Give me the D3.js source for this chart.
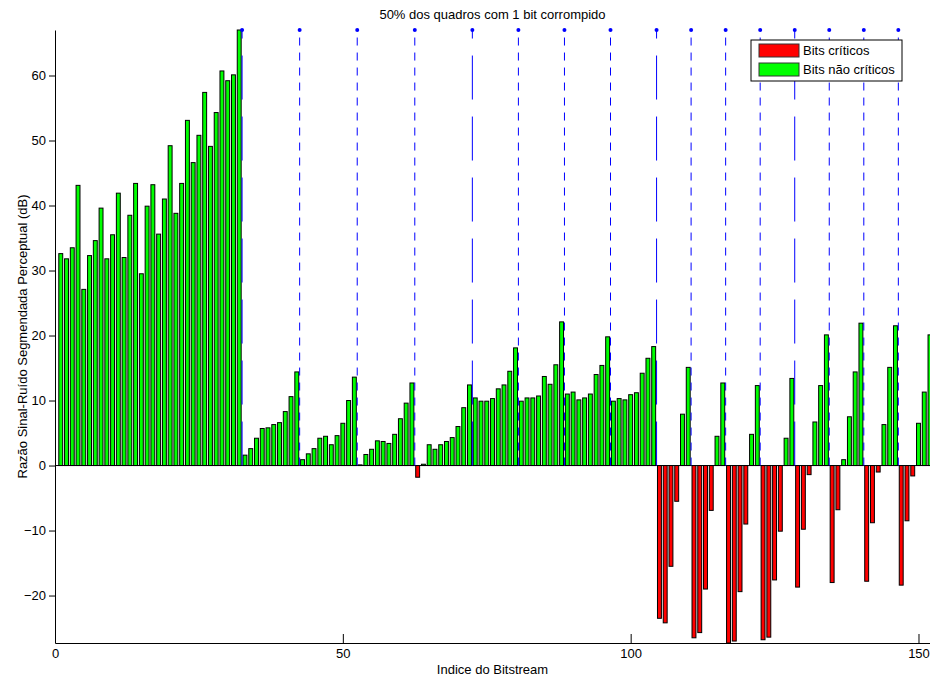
<!DOCTYPE html>
<html lang="pt">
<head>
    <meta charset="UTF-8">
    <script src="https://d3js.org/d3.v7.min.js"></script>
    <title>50% dos quadros com 1 bit corrompido</title>
    <style>
        body { margin: 0; background: #fff; }
        text { font-family: "Liberation Sans", Arial, sans-serif; font-size: 13px; }
    </style>
</head>
<body>
<div id="chart"></div>
<script>
    // valores (indice 1..152)
    const snrValues = [
        32.6, 31.8, 33.5, 43.1, 27.1, 32.3, 34.6, 39.6, 31.8, 35.5, 41.9, 32.0, 38.5, 43.4, 29.5, 39.9,
        43.2, 35.6, 41.0, 49.2, 38.8, 43.4, 53.1, 46.6, 50.8, 57.4, 49.1, 54.3, 60.7, 59.2, 60.1, 67.0,
        1.6, 2.6, 4.2, 5.7, 5.8, 6.3, 6.6, 8.3, 10.6, 14.4,
        0.9, 1.8, 2.6, 4.2, 4.5, 3.2, 4.6, 6.5, 10.0, 13.6,
        0.1, 1.7, 2.5, 3.8, 3.7, 3.4, 4.8, 7.2, 9.6, 12.7,
        -1.8, 0.2, 3.2, 2.5, 3.2, 3.7, 4.3, 6.0, 8.9, 12.4,
        10.4, 9.9, 9.9, 10.3, 11.8, 12.4, 14.5, 18.1,
        9.9, 10.4, 10.4, 10.7, 13.7, 12.5, 15.5, 22.1,
        11.0, 11.3, 10.1, 10.4, 11.0, 14.0, 15.4, 19.8,
        9.9, 10.3, 10.1, 10.9, 11.2, 14.2, 16.5, 18.3,
        -23.5, -24.2, -15.5, -5.5, 7.9, 15.1,
        -26.5, -25.7, -19.0, -6.9, 4.5, 12.7,
        -27.3, -27.0, -19.4, -9.0, 4.8, 12.3,
        -26.8, -26.4, -17.6, -10.1, 4.2, 13.4,
        -18.7, -9.8, -1.4, 6.7, 12.3, 20.1,
        -18.0, -6.8, 0.9, 7.5, 14.4, 21.9,
        -17.8, -8.8, -1.0, 6.3, 15.1, 21.5,
        -18.4, -8.5, -1.6, 6.5, 11.3, 20.1
    ];

    // limites entre quadros (stems tracejados)
    const frameBounds = [32, 42, 52, 62, 72, 80, 88, 96, 104, 110, 116, 122, 128, 134, 140, 146];
    const longDashBounds = [32, 72, 104, 128];
    const stemHeight = 67.0;

    const xTicks = [0, 50, 100, 150];
    const yTicks = [-20, -10, 0, 10, 20, 30, 40, 50, 60];
    const legendLabels = ["Bits críticos", "Bits não críticos"];
    const legendColors = ["#ff0000", "#00ff00"];

    const margin = {top: 30, right: 0, bottom: 36, left: 55};
    const width = 930 - margin.left - margin.right;
    const height = 679 - margin.top - margin.bottom;

    const svg = d3.select("#chart")
        .append("svg")
            .attr("width", 930)
            .attr("height", 679);

    const g = svg.append("g")
        .attr("transform", `translate(${margin.left},${margin.top})`);

    const x = d3.scaleLinear().domain([0, 152]).range([0, width]);
    const y = d3.scaleLinear().domain([d3.min(snrValues), d3.max(snrValues)]).range([height, 0]);

    const bw = 0.68;

    // barras
    g.selectAll(".bar")
        .data(snrValues)
        .join("rect")
            .attr("class", "bar")
            .attr("x", (d, i) => x(i + 1 - bw / 2))
            .attr("width", x(bw) - x(0))
            .attr("y", d => y(Math.max(d, 0)))
            .attr("height", d => Math.abs(y(d) - y(0)))
            .attr("fill", d => d < 0 ? legendColors[0] : legendColors[1])
            .attr("stroke", "#000")
            .attr("stroke-width", 1);

    // linha de base
    g.append("line")
        .attr("x1", x(0)).attr("x2", x(152))
        .attr("y1", y(0)).attr("y2", y(0))
        .attr("stroke", "#000");

    // stems
    const stems = g.selectAll(".stem")
        .data(frameBounds)
        .join("g")
            .attr("class", "stem");

    stems.append("path")
        .attr("d", d => `M${x(d + 0.5)},${y(0)}V${y(stemHeight)}`)
        .attr("stroke", "#0000ff")
        .attr("stroke-width", 1)
        .attr("fill", "none")
        .attr("stroke-dasharray", d => longDashBounds.includes(d) ? "44,17" : "8,7");

    stems.append("circle")
        .attr("cx", d => x(d + 0.5))
        .attr("cy", y(stemHeight))
        .attr("r", 2)
        .attr("fill", "#0000ff");

    // eixos
    g.append("g")
        .attr("transform", `translate(0,${height})`)
        .call(d3.axisBottom(x).tickValues(xTicks).tickSizeInner(-9).tickSizeOuter(0).tickPadding(6));

    g.append("g")
        .call(d3.axisLeft(y).tickValues(yTicks).tickSizeInner(6).tickSizeOuter(0).tickPadding(3));

    g.selectAll(".tick text")
        .attr("fill", "#000")
        .style("font-size", "13px");

    // textos
    svg.append("text")
        .attr("x", margin.left + width / 2)
        .attr("y", 19)
        .attr("text-anchor", "middle")
        .text("50% dos quadros com 1 bit corrompido");

    svg.append("text")
        .attr("x", margin.left + width / 2)
        .attr("y", 674)
        .attr("text-anchor", "middle")
        .text("Indice do Bitstream");

    svg.append("text")
        .attr("transform", `translate(27,${margin.top + height / 2}) rotate(-90)`)
        .attr("text-anchor", "middle")
        .text("Razão Sinal-Ruído Segmendada Perceptual (dB)");

    // legenda
    const legend = svg.append("g")
        .attr("transform", "translate(751,40)");

    legend.append("rect")
        .attr("width", 151)
        .attr("height", 41)
        .attr("fill", "#fff")
        .attr("stroke", "#000");

    legendLabels.forEach((label, i) => {
        legend.append("rect")
            .attr("x", 8)
            .attr("y", 4 + i * 19)
            .attr("width", 40)
            .attr("height", 13)
            .attr("fill", legendColors[i])
            .attr("stroke", "#333");
        legend.append("text")
            .attr("x", 52)
            .attr("y", 15 + i * 19)
            .text(label);
    });
</script>
</body>
</html>
